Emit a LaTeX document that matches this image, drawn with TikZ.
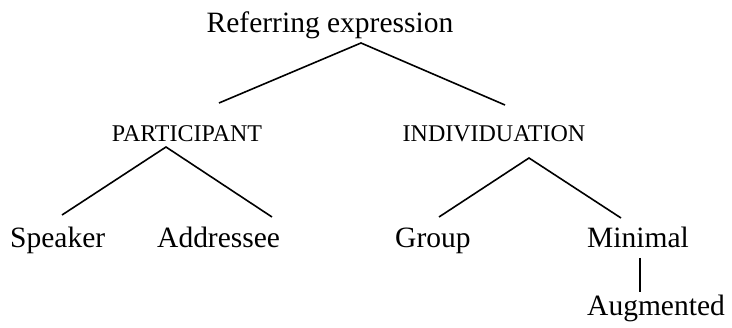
\documentclass[tikz,border=0pt]{standalone}
\usepackage{fontspec}
\setmainfont{Liberation Serif}
\begin{document}
\begin{tikzpicture}[x=1pt,y=-1pt,
  big/.style={inner sep=0pt,font=\fontsize{29.5}{34}\selectfont},
  capl/.style={inner sep=0pt,font=\fontsize{24}{28}\selectfont},
  edge/.style={line width=1.6pt,black}]
\useasboundingbox (0,0) rectangle (732,328);
\node[big,anchor=base] (root) at (330,33) {Referring expression};
\node[capl,anchor=base] (part) at (187,142) {PARTICIPANT};
\node[capl,anchor=base] (indiv) at (494,142) {INDIVIDUATION};
\node[big,anchor=base west] (spk) at (10,248) {Speaker};
\node[big,anchor=base west] (addr) at (157,248) {Addressee};
\node[big,anchor=base west] (grp) at (395,248) {Group};
\node[big,anchor=base west] (mini) at (587,248) {Minimal};
\node[big,anchor=base west] (aug) at (587,316) {Augmented};
\coordinate (rootJ) at (361,43);
\coordinate (partT) at (219,103);
\coordinate (indivT) at (505,105);
\coordinate (partJ) at (166,147);
\coordinate (spkT) at (62,215);
\coordinate (addrT) at (272,217);
\coordinate (indivJ) at (529,158);
\coordinate (grpT) at (439,217);
\coordinate (miniT) at (621,218);
\coordinate (miniB) at (640,258);
\coordinate (augT) at (640,292);
\draw[edge] (partT) -- (rootJ) -- (indivT);
\draw[edge] (spkT) -- (partJ) -- (addrT);
\draw[edge] (grpT) -- (indivJ) -- (miniT);
\draw[edge] (miniB) -- (augT);
\end{tikzpicture}
\end{document}
